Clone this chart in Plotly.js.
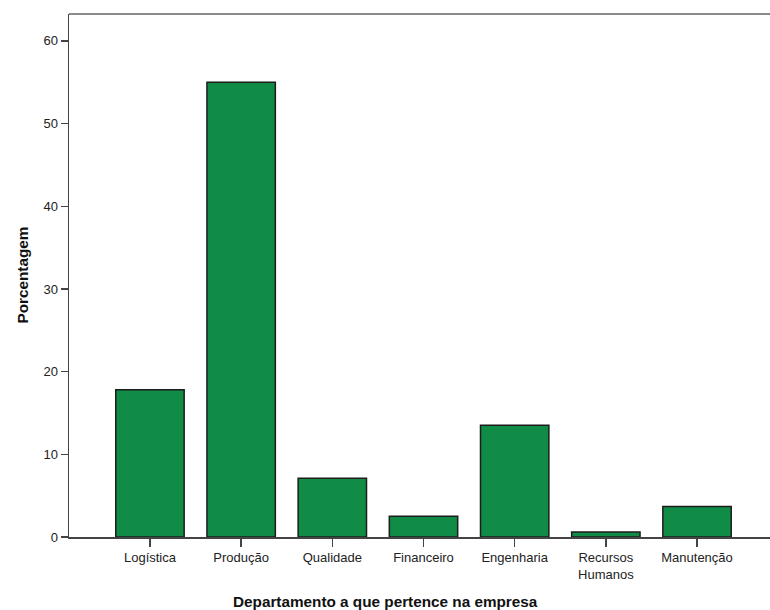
<!DOCTYPE html>
<html>
<head>
<meta charset="utf-8">
<script src="https://cdn.plot.ly/plotly-3.0.1.min.js"></script>
<style>
html,body{margin:0;padding:0;background:#fff;overflow:hidden;width:770px;height:610px;}
#chart{width:782px;height:610px;}
</style>
</head>
<body>
<div id="chart"></div>
<script>
const categories = ["Logística", "Produção", "Qualidade", "Financeiro", "Engenharia", "Recursos<br>Humanos", "Manutenção"];
const percentages = [17.8, 55.0, 7.1, 2.5, 13.5, 0.6, 3.7];
const yTicks = [0, 10, 20, 30, 40, 50, 60];

const trace = {
  type: "bar",
  x: categories,
  y: percentages,
  marker: {color: "#108c47", line: {color: "#1c1c1c", width: 1.5}},
  hoverinfo: "x+y"
};

const tickFont = {family: "Liberation Sans, Arial, sans-serif", size: 13, color: "#222"};

const layout = {
  width: 782,
  height: 610,
  margin: {l: 69, r: 4, t: 14, b: 73, pad: 0},
  paper_bgcolor: "#ffffff",
  plot_bgcolor: "#ffffff",
  showlegend: false,
  bargap: 0.25,
  font: tickFont,
  xaxis: {
    type: "category",
    range: [-0.888, 6.888],
    showline: true, linecolor: "#444", linewidth: 1.5,
    ticks: "outside", ticklen: 8, tickwidth: 1.5, tickcolor: "#444",
    showgrid: false, zeroline: false,
    tickfont: tickFont,
    fixedrange: true
  },
  yaxis: {
    range: [0, 63.25],
    tickvals: yTicks,
    ticktext: yTicks.map(String),
    showline: true, linecolor: "#444", linewidth: 1.5,
    ticks: "outside", ticklen: 7, tickwidth: 1.5, tickcolor: "#444",
    showgrid: false, zeroline: false,
    tickfont: tickFont,
    fixedrange: true
  },
  shapes: [
    {type: "line", xref: "paper", yref: "paper", x0: 0, x1: 1, y0: 1, y1: 1,
     line: {color: "#8a8a8a", width: 2}}
  ],
  annotations: [
    {text: "<b>Departamento a que pertence na empresa</b>", xref: "paper", yref: "paper",
     x: (385 - 69) / 709, y: 0, yshift: -64, xanchor: "center", yanchor: "middle", showarrow: false,
     font: {family: "Liberation Sans, Arial, sans-serif", size: 15.3, color: "#111"}},
    {text: "<b>Porcentagem</b>", xref: "paper", yref: "paper",
     x: 0, xshift: -47, y: 0.5, xanchor: "center", yanchor: "middle", textangle: -90, showarrow: false,
     font: {family: "Liberation Sans, Arial, sans-serif", size: 15.3, color: "#111"}}
  ]
};

Plotly.newPlot("chart", [trace], layout, {displayModeBar: false, staticPlot: true});
</script>
</body>
</html>
